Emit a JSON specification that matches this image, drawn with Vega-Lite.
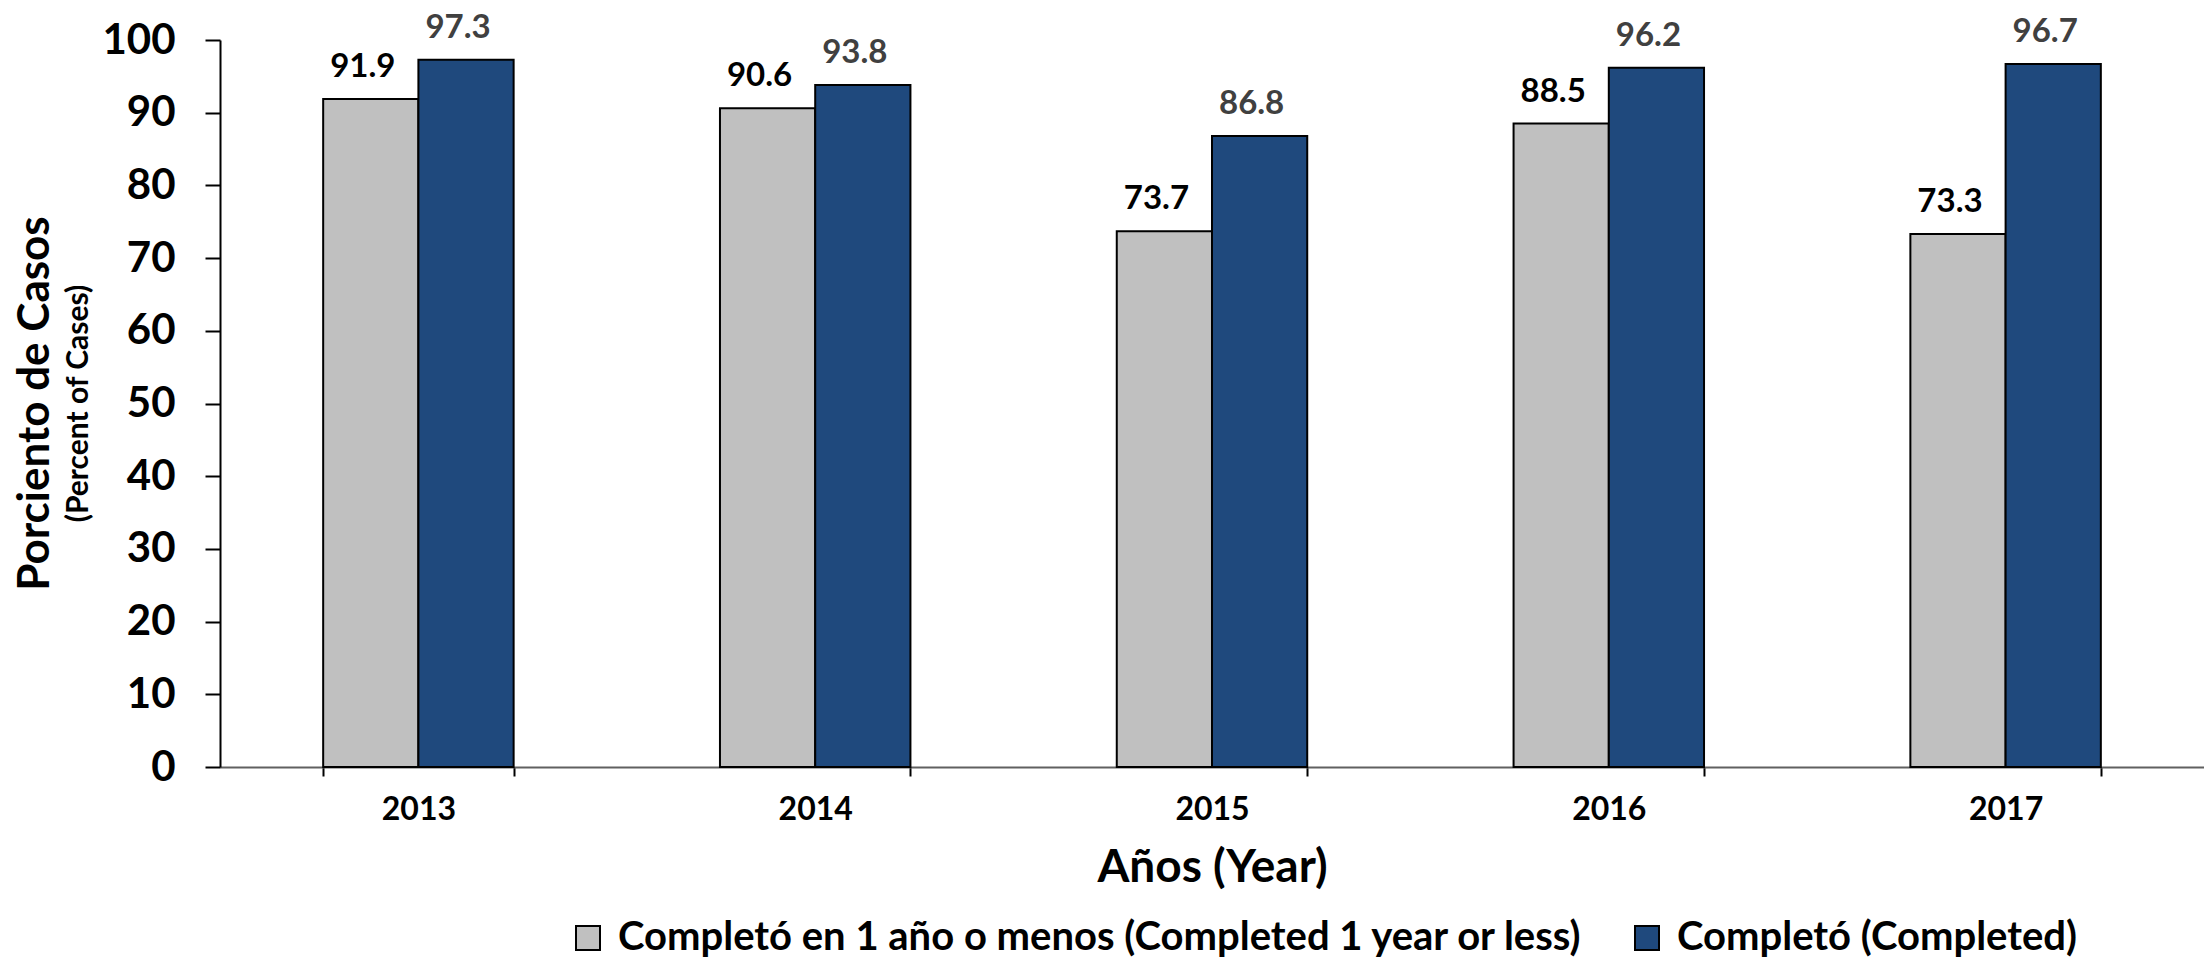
{
  "$schema": "https://vega.github.io/schema/vega-lite/v6.json",
  "width": 1984,
  "height": 727,
  "autosize": {"type": "none"},
  "padding": {"left": 220, "top": 40, "right": 0, "bottom": 191},
  "background": "white",
  "config": {"view": {"stroke": null}, "font": "Lato"},
  "title": {
    "text": "Porciento de Casos",
    "subtitle": "(Percent of Cases)",
    "orient": "left",
    "anchor": "middle",
    "font": "Lato",
    "fontSize": 44,
    "fontWeight": "bold",
    "color": "black",
    "subtitleFont": "Lato",
    "subtitleFontSize": 30,
    "subtitleFontWeight": "bold",
    "subtitleColor": "black",
    "offset": 8,
    "subtitlePadding": 6
  },
  "data": {
    "values": [
      {"year": "2013", "serie": "Completó en 1 año o menos (Completed 1 year or less)", "value": 91.9},
      {"year": "2013", "serie": "Completó (Completed)", "value": 97.3},
      {"year": "2014", "serie": "Completó en 1 año o menos (Completed 1 year or less)", "value": 90.6},
      {"year": "2014", "serie": "Completó (Completed)", "value": 93.8},
      {"year": "2015", "serie": "Completó en 1 año o menos (Completed 1 year or less)", "value": 73.7},
      {"year": "2015", "serie": "Completó (Completed)", "value": 86.8},
      {"year": "2016", "serie": "Completó en 1 año o menos (Completed 1 year or less)", "value": 88.5},
      {"year": "2016", "serie": "Completó (Completed)", "value": 96.2},
      {"year": "2017", "serie": "Completó en 1 año o menos (Completed 1 year or less)", "value": 73.3},
      {"year": "2017", "serie": "Completó (Completed)", "value": 96.7}
    ]
  },
  "encoding": {
    "x": {
      "field": "year",
      "type": "nominal",
      "scale": {"paddingInner": 0.52, "paddingOuter": 0.26},
      "axis": {
        "title": "Años (Year)",
        "titleFont": "Lato",
        "titleFontSize": 46,
        "titleFontWeight": "bold",
        "titleColor": "black",
        "titlePadding": 20,
        "labelFont": "Lato",
        "labelFontSize": 32,
        "labelFontWeight": "bold",
        "labelColor": "black",
        "labelAngle": 0,
        "labelPadding": 18,
        "tickBand": "extent",
        "tickSize": 9,
        "tickColor": "black",
        "tickWidth": 2,
        "domainColor": "#606060",
        "domainWidth": 2
      }
    },
    "xOffset": {
      "field": "serie",
      "type": "nominal",
      "sort": ["Completó en 1 año o menos (Completed 1 year or less)", "Completó (Completed)"]
    },
    "y": {
      "field": "value",
      "type": "quantitative",
      "scale": {"domain": [0, 100]},
      "axis": {
        "title": null,
        "values": [0, 10, 20, 30, 40, 50, 60, 70, 80, 90, 100],
        "grid": false,
        "labelFont": "Lato",
        "labelFontSize": 42,
        "labelFontWeight": "bold",
        "labelColor": "black",
        "labelPadding": 30,
        "tickSize": 15,
        "tickColor": "black",
        "tickWidth": 2,
        "domainColor": "black",
        "domainWidth": 2
      }
    }
  },
  "layer": [
    {
      "mark": {"type": "bar", "stroke": "black", "strokeWidth": 2},
      "encoding": {
        "color": {
          "field": "serie",
          "type": "nominal",
          "scale": {
            "domain": ["Completó en 1 año o menos (Completed 1 year or less)", "Completó (Completed)"],
            "range": ["#C0C0C0", "#1F497D"]
          },
          "legend": {
            "title": null,
            "orient": "none",
            "legendX": 348,
            "legendY": 878,
            "direction": "horizontal",
            "symbolType": "square",
            "symbolSize": 576,
            "symbolStrokeColor": "black",
            "symbolStrokeWidth": 2,
            "labelFont": "Lato",
            "labelFontSize": 40,
            "labelFontWeight": "bold",
            "labelColor": "black",
            "labelOffset": 10,
            "labelLimit": 0,
            "columnPadding": 43
          }
        }
      }
    },
    {
      "mark": {
        "type": "text",
        "font": "Lato",
        "fontSize": 33,
        "fontWeight": "bold",
        "baseline": "alphabetic",
        "dy": -22,
        "dx": -8
      },
      "encoding": {
        "text": {"field": "value", "type": "quantitative", "format": ".1f"},
        "color": {
          "condition": {"test": "datum.serie === 'Completó (Completed)'", "value": "#404040"},
          "value": "black"
        }
      }
    }
  ]
}
